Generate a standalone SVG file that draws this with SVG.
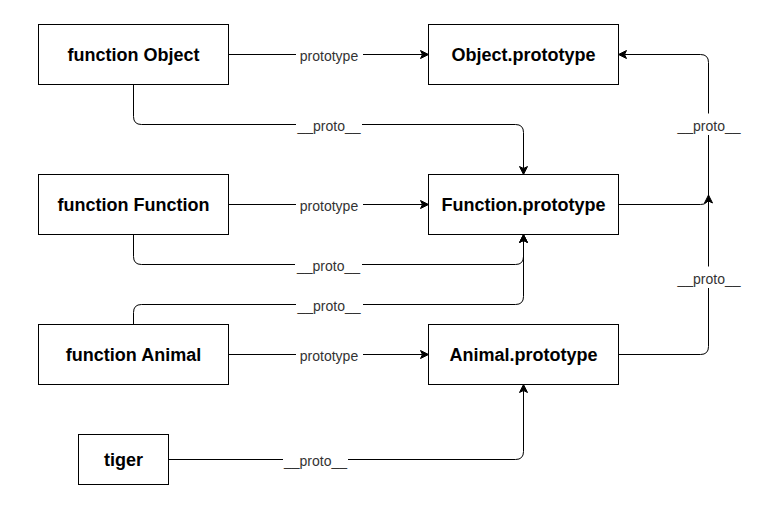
<svg xmlns="http://www.w3.org/2000/svg" width="777" height="511" viewBox="0 0 777 511">
<style>
.node rect{fill:#fff;stroke:#000;stroke-width:1}
.node text{font-family:"Liberation Sans",Arial,sans-serif;font-size:18px;font-weight:bold;fill:#000;text-anchor:middle}
.edge{fill:none;stroke:#000;stroke-width:1}
.lbl rect{fill:#fff;stroke:none}
.lbl text{font-family:"Liberation Sans",Arial,sans-serif;font-size:14px;fill:#333;text-anchor:middle}
</style>
<defs>
<marker id="arr" markerUnits="userSpaceOnUse" markerWidth="10" markerHeight="10" viewBox="0 -5 10 10" refX="2" refY="0" orient="auto" overflow="visible">
<path d="M8,0 L0,-4 L2,0 L0,4 Z" fill="#000" stroke="#000" stroke-width="1" stroke-linejoin="miter"/>
</marker>
</defs>
<rect width="777" height="511" fill="#fff"/>
<g id="connectors">
<path class="edge" d="M228.5,54.5 H422.5" marker-end="url(#arr)"/>
<path class="edge" d="M133.5,84.5 V116.5 Q133.5,124.5 141.5,124.5 H515.5 Q523.5,124.5 523.5,132.5 V168.5" marker-end="url(#arr)"/>
<path class="edge" d="M228.5,204.5 H422.5" marker-end="url(#arr)"/>
<path class="edge" d="M133.5,234.5 V256.5 Q133.5,264.5 141.5,264.5 H515.5 Q523.5,264.5 523.5,256.5 V240.5" marker-end="url(#arr)"/>
<path class="edge" d="M133.5,324.5 V312.5 Q133.5,304.5 141.5,304.5 H515.5 Q523.5,304.5 523.5,296.5 V240.5" marker-end="url(#arr)"/>
<path class="edge" d="M228.5,354.5 H422.5" marker-end="url(#arr)"/>
<path class="edge" d="M168.5,459.5 H515.5 Q523.5,459.5 523.5,451.5 V390.5" marker-end="url(#arr)"/>
<path class="edge" d="M618.5,204.5 H700.5 Q708.5,204.5 708.5,196.5 V62.5 Q708.5,54.5 700.5,54.5 H624.5" marker-end="url(#arr)"/>
<path class="edge" d="M618.5,354.5 H700.5 Q708.5,354.5 708.5,346.5 V201" marker-end="url(#arr)"/>
<g class="lbl">
<rect x="296" y="46" width="67" height="17"/><text x="329" y="60.5">prototype</text>
<rect x="296" y="116" width="66" height="17"/><text x="329" y="131">__proto__</text>
<rect x="296" y="196" width="67" height="17"/><text x="329" y="210.5">prototype</text>
<rect x="295" y="256" width="67" height="17"/><text x="328.5" y="271">__proto__</text>
<rect x="296" y="296" width="67" height="17"/><text x="329" y="311">__proto__</text>
<rect x="296" y="346" width="67" height="17"/><text x="329" y="360.5">prototype</text>
<rect x="283" y="451" width="65" height="17"/><text x="315.5" y="466">__proto__</text>
<rect x="676" y="113.5" width="66" height="21.5"/><text x="709" y="131">__proto__</text>
<rect x="676" y="266.5" width="66" height="21.5"/><text x="709" y="284">__proto__</text>
</g>
</g>
<g id="n-function-object" class="node"><rect x="38.5" y="24.5" width="190" height="60"/><text x="133.5" y="60.5">function Object</text></g>
<g id="n-object-prototype" class="node"><rect x="428.5" y="24.5" width="190" height="60"/><text x="523.5" y="60.5">Object.prototype</text></g>
<g id="n-function-function" class="node"><rect x="38.5" y="174.5" width="190" height="60"/><text x="133.5" y="210.5">function Function</text></g>
<g id="n-function-prototype" class="node"><rect x="428.5" y="174.5" width="190" height="60"/><text x="523.5" y="210.5">Function.prototype</text></g>
<g id="n-function-animal" class="node"><rect x="38.5" y="324.5" width="190" height="60"/><text x="133.5" y="360.5">function Animal</text></g>
<g id="n-animal-prototype" class="node"><rect x="428.5" y="324.5" width="190" height="60"/><text x="523.5" y="360.5">Animal.prototype</text></g>
<g id="n-tiger" class="node"><rect x="78.5" y="434.5" width="90" height="50"/><text x="123.5" y="465.5">tiger</text></g>
</svg>
